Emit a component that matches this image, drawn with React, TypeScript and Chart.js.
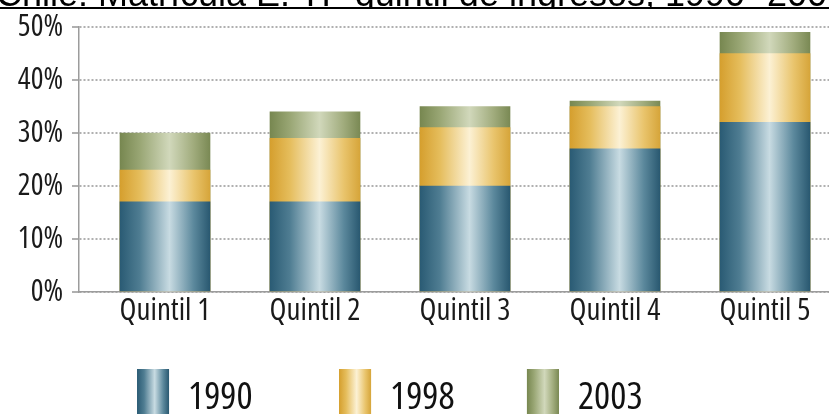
import React, { useEffect, useRef } from 'react';
import { Chart, registerables } from 'chart.js';

Chart.register(...registerables);

// ---- data ----
const TITLE = 'Chile: Matrícula E. TP quintil de ingresos, 1990- 2003';
const categories = ['Quintil 1', 'Quintil 2', 'Quintil 3', 'Quintil 4', 'Quintil 5'];
const years = ['1990', '1998', '2003'];
const values1990 = [17, 17, 20, 27, 32];
const values1998 = [23, 29, 31, 35, 45];
const values2003 = [30, 34, 35, 36, 49];
const yTickValues = [0, 10, 20, 30, 40, 50];

// ---- styles ----
const BAR_W = 90;
const BOX_W = 32;
const BOX_H = 58;
const X_MIN = 1 - 86 / 150;
const X_MAX = X_MIN + 5;
const LEGEND_TEXT_W = [117, 105, 117];

type FontPick = { family: string; weight: string | undefined; y: number; x: number; legend: number };

function pickFont(): FontPick {
  try {
    const c = document.createElement('canvas').getContext('2d') as CanvasRenderingContext2D;
    c.font = '100px "Open Sans"';
    const w1 = c.measureText('Quintil 1').width;
    c.font = 'condensed 100px "Open Sans"';
    const w2 = c.measureText('Quintil 1').width;
    if (w2 < w1 * 0.9) {
      return { family: '"Open Sans", sans-serif', weight: '500 condensed', y: 30, x: 31, legend: 38 };
    }
  } catch (e) {
    /* ignore */
  }
  return { family: '"DejaVu Sans Condensed", sans-serif', weight: undefined, y: 26, x: 27, legend: 31 };
}

type Stops = Array<[number, string]>;
const palettes: Record<string, Stops> = {
  '1990': [[0, '#2a5b74'], [0.22, '#4f7d92'], [0.55, '#c8dbe2'], [0.82, '#5b889c'], [1, '#295870']],
  '1998': [[0, '#d59f2e'], [0.22, '#e5bd5c'], [0.55, '#fcf1d4'], [0.82, '#e9c46c'], [1, '#d6a53a']],
  '2003': [[0, '#778750'], [0.22, '#99a674'], [0.55, '#d1d8bb'], [0.82, '#a0ab7c'], [1, '#7a8954']],
};
const solid: Record<string, string> = { '1990': '#5b889c', '1998': '#e9c46c', '2003': '#a0ab7c' };

function barFill(year: string) {
  return (ctx: any) => {
    const chart = ctx.chart;
    const xs = chart.scales && chart.scales.x;
    if (ctx.type !== 'data' || !xs || !chart.chartArea) return solid[year];
    const xv = ctx.parsed && typeof ctx.parsed.x === 'number' ? ctx.parsed.x : ctx.dataIndex + 1;
    const cx = xs.getPixelForValue(xv);
    const g = chart.ctx.createLinearGradient(cx - BAR_W / 2, 0, cx + BAR_W / 2, 0);
    palettes[year].forEach(([o, c]) => g.addColorStop(o, c));
    return g;
  };
}

const legendGradientPlugin = {
  id: 'legendGradient',
  afterDraw(chart: any) {
    const lg = chart.legend;
    if (!lg || !lg.legendHitBoxes || !lg.legendItems) return;
    const ctx = chart.ctx;
    lg.legendHitBoxes.forEach((hb: any, i: number) => {
      const item = lg.legendItems[i];
      const year = chart.data.datasets[item.datasetIndex].label;
      const g = ctx.createLinearGradient(hb.left, 0, hb.left + BOX_W, 0);
      palettes[year].forEach(([o, c]) => g.addColorStop(o, c));
      ctx.save();
      ctx.fillStyle = g;
      ctx.fillRect(hb.left, hb.top, BOX_W, BOX_H);
      ctx.restore();
    });
  },
};

export default function App() {
  const ref = useRef<HTMLCanvasElement | null>(null);

  useEffect(() => {
    if (!ref.current) return;
    const F = pickFont();
    const series = [values1990, values1998, values2003];
    const chart = new Chart(ref.current, {
      type: 'bar',
      data: {
        datasets: years.map((y, k) => ({
          label: y,
          data: series[k].map((v, i) => ({ x: i + 1, y: v })),
          backgroundColor: barFill(y),
          borderWidth: 0,
          barThickness: BAR_W,
          grouped: false,
          order: k,
        })),
      },
      options: {
        responsive: false,
        animation: false,
        events: [],
        layout: { padding: { top: 26, left: 0, right: 0, bottom: 0 } },
        scales: {
          x: {
            type: 'linear',
            offset: false,
            min: X_MIN,
            max: X_MAX,
            afterBuildTicks: (s: any) => {
              s.ticks = categories.map((_, i) => ({ value: i + 1 }));
            },
            afterFit: (s: any) => {
              s.height = 40;
            },
            grid: { display: false, drawTicks: false },
            border: { display: true, color: '#9c9c9c', width: 1.5 },
            ticks: {
              autoSkip: false,
              maxRotation: 0,
              padding: 1,
              color: '#1a1a1a',
              font: { family: F.family, size: F.x, weight: F.weight },
              callback: (v: any) => categories[Math.round(Number(v)) - 1] ?? '',
            },
          },
          y: {
            min: 0,
            max: 50,
            afterBuildTicks: (s: any) => {
              s.ticks = yTickValues.map((v) => ({ value: v }));
            },
            afterFit: (s: any) => {
              s.width = 79;
            },
            grid: {
              color: 'rgba(150,150,150,0.75)',
              lineWidth: 2,
              tickLength: 7,
            },
            border: { display: true, color: '#9c9c9c', width: 1.5, dash: [2, 2] },
            ticks: {
              padding: 9,
              color: '#1a1a1a',
              font: { family: F.family, size: F.y, weight: F.weight },
              callback: (v: any) => `${v}%`,
            },
          },
        },
        plugins: {
          tooltip: { enabled: false },
          title: { display: false },
          legend: {
            position: 'bottom',
            align: 'center',
            labels: {
              boxWidth: BOX_W,
              boxHeight: BOX_H,
              padding: 37,
              color: '#111',
              font: { family: F.family, size: F.legend, weight: F.weight },
              generateLabels: (c: any) => {
                const items = Chart.defaults.plugins.legend.labels.generateLabels(c);
                const mctx = c.ctx;
                mctx.save();
                mctx.font = `${F.weight ? F.weight + ' ' : ''}${F.legend}px ${F.family}`;
                const out = items.map((it: any, i: number) => {
                  let t = it.text;
                  const target = LEGEND_TEXT_W[i] ?? 0;
                  let guard = 0;
                  while (mctx.measureText(t + ' ').width <= target && guard < 60) {
                    t += ' ';
                    guard++;
                  }
                  return { ...it, text: t, lineWidth: 0, strokeStyle: 'rgba(0,0,0,0)' };
                });
                mctx.restore();
                return out;
              },
            },
          },
        },
      } as any,
      plugins: [legendGradientPlugin],
    });
    return () => chart.destroy();
  }, []);

  return (
    <div
      style={{
        position: 'fixed',
        left: 0,
        top: 0,
        width: 829,
        height: 414,
        overflow: 'hidden',
        background: '#fff',
      }}
    >
      <canvas
        ref={ref}
        width={829}
        height={437}
        style={{ position: 'absolute', left: 0, top: 0, width: 829, height: 437, display: 'block' }}
      />
      <div
        style={{
          position: 'absolute',
          left: 0,
          top: 0,
          width: 829,
          height: 7,
          overflow: 'hidden',
          borderBottom: '2px solid #000',
        }}
      >
        <div
          style={{
            position: 'absolute',
            left: -4,
            top: -25,
            whiteSpace: 'nowrap',
            fontFamily: '"Liberation Sans", Arial, sans-serif',
            fontSize: 36,
            lineHeight: '38px',
            color: '#000',
          }}
        >
          {TITLE}
        </div>
      </div>
    </div>
  );
}
